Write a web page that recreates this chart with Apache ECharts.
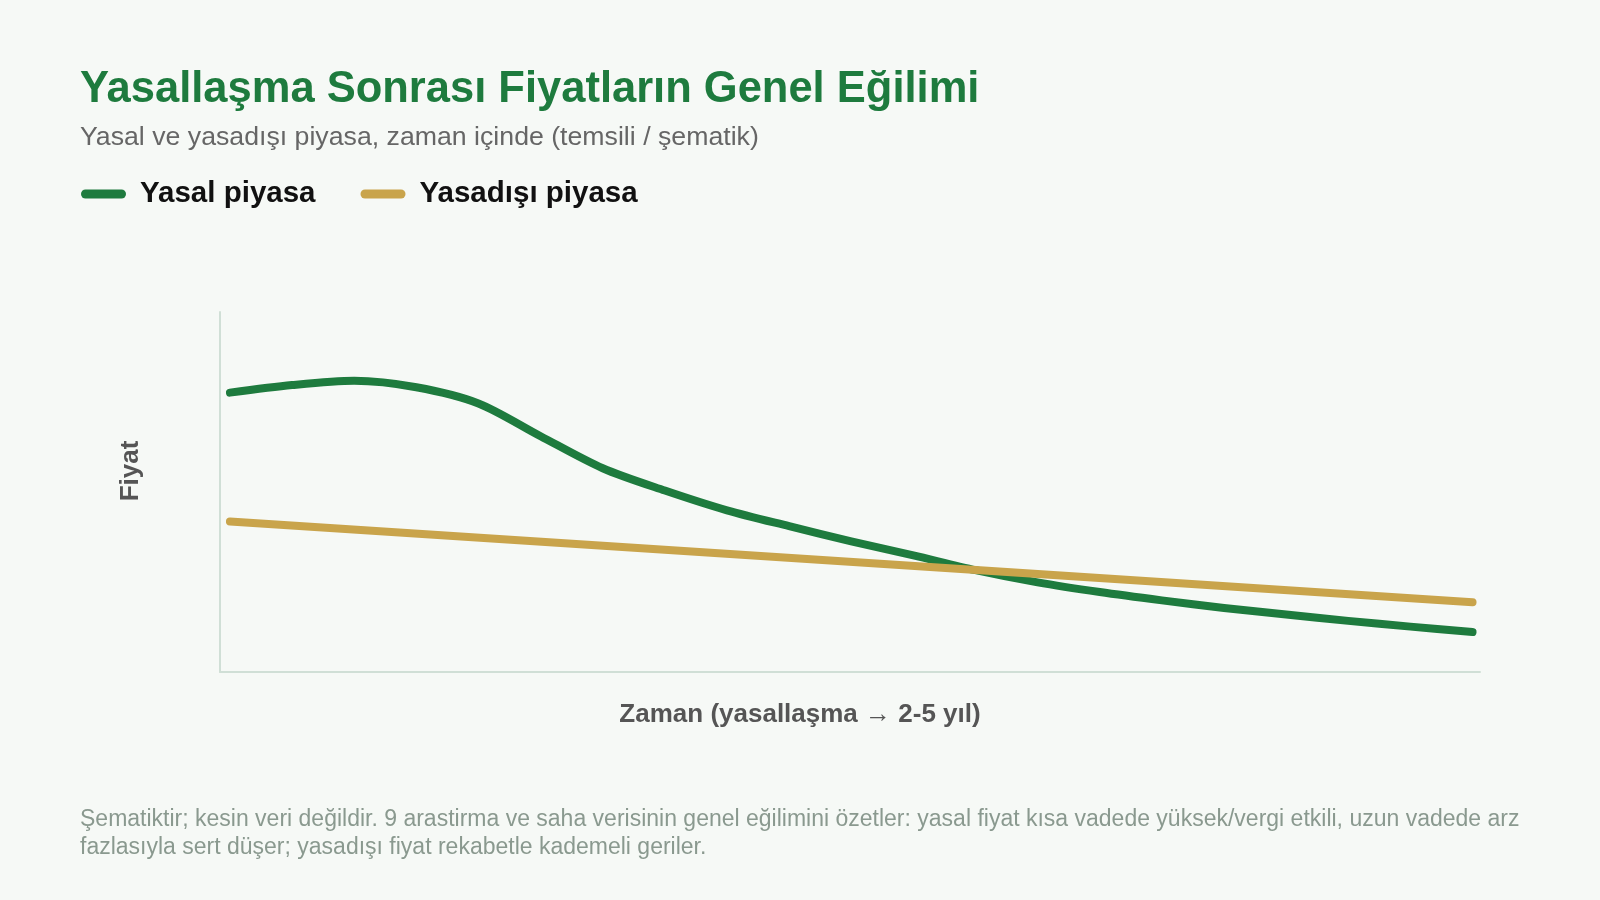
<!DOCTYPE html>
<html lang="tr">
<head>
    <meta charset="utf-8">
    <script src="https://cdn.jsdelivr.net/npm/echarts@6/dist/echarts.min.js"></script>
    <style>
        html, body { margin: 0; padding: 0; background: #f6f9f6; }
        #chart { width: 1600px; height: 900px; }
    </style>
</head>
<body>
<div id="chart"></div>
<script type="text/javascript">
    // zaman ekseni (yasallaşma -> 2-5 yıl), şematik birimler
    var timePoints = [0, 0.5, 1, 1.5, 2, 2.5, 3, 3.5, 4, 4.5, 5, 5.5, 6, 6.5, 7, 7.5, 8, 8.5, 9, 9.5, 10];
    // yasal piyasa fiyatı (göreli)
    var legalPrice = [77.6, 79.7, 80.9, 79.1, 74.6, 65.5, 56.6, 50.4, 44.9, 40.5, 36.3, 32.4, 28.3, 24.9, 22.2, 19.9, 17.8, 16.0, 14.2, 12.6, 11.1];
    // yasadışı piyasa: düz, kademeli düşüş
    var illegalTime = [0, 10];
    var illegalPrice = [41.8, 19.4];
    var seriesNames = ['Yasal piyasa', 'Yasadışı piyasa'];

    var titleText = 'Yasallaşma Sonrası Fiyatların Genel Eğilimi';
    var subText = 'Yasal ve yasadışı piyasa, zaman içinde (temsili / şematik)';
    var yName = 'Fiyat';
    var xName = 'Zaman (yasallaşma → 2-5 yıl)';
    var noteText = 'Şematiktir; kesin veri değildir. 9 arastirma ve saha verisinin genel eğilimini özetler: yasal fiyat kısa vadede yüksek/vergi etkili, uzun vadede arz\n' +
        'fazlasıyla sert düşer; yasadışı fiyat rekabetle kademeli geriler.';

    var FONT = '"Liberation Sans", Arial, Helvetica, sans-serif';
    var GREEN = '#1e7b3e';
    var GOLD = '#c9a44b';

    function pairs(xs, ys) {
        return xs.map(function (x, i) { return [x, ys[i]]; });
    }

    var chart = echarts.init(document.getElementById('chart'), null, {renderer: 'canvas'});

    var option = {
        backgroundColor: '#f6f9f6',
        animation: false,
        textStyle: {fontFamily: FONT},
        legend: {
            left: 76,
            top: 174,
            itemWidth: 45,
            itemHeight: 9,
            itemGap: 45,
            icon: 'path://M4.5,0 H40.5 A4.5,4.5 0 0 1 40.5,9 H4.5 A4.5,4.5 0 0 1 4.5,0 Z',
            textStyle: {
                fontFamily: FONT,
                fontSize: 29.5,
                fontWeight: 'bold',
                color: '#111',
                lineHeight: 30,
                padding: [0, 0, 0, 9]
            },
            data: seriesNames
        },
        grid: {
            left: 220,
            right: 120,
            top: 312,
            bottom: 228
        },
        xAxis: {
            type: 'value',
            min: -0.08,
            max: 10.06,
            axisLine: {show: true, lineStyle: {color: '#d0dfd6', width: 2}},
            axisTick: {show: false},
            axisLabel: {show: false},
            splitLine: {show: false}
        },
        yAxis: {
            type: 'value',
            min: 0,
            max: 100,
            axisLine: {show: true, onZero: false, lineStyle: {color: '#d0dfd6', width: 2}},
            axisTick: {show: false},
            axisLabel: {show: false},
            splitLine: {show: false}
        },
        series: [
            {
                name: seriesNames[0],
                type: 'line',
                data: pairs(timePoints, legalPrice),
                smooth: 0.3,
                showSymbol: false,
                symbol: 'none',
                color: GREEN,
                lineStyle: {color: GREEN, width: 8, cap: 'round', join: 'round'}
            },
            {
                name: seriesNames[1],
                type: 'line',
                data: pairs(illegalTime, illegalPrice),
                showSymbol: false,
                symbol: 'none',
                color: GOLD,
                lineStyle: {color: GOLD, width: 8, cap: 'round'}
            }
        ],
        graphic: [
            {
                type: 'text', left: 80, top: 68,
                style: {text: titleText, fontFamily: FONT, fontSize: 43.5, fontWeight: 'bold', fill: GREEN}
            },
            {
                type: 'text', left: 80, top: 124,
                style: {text: subText, fontFamily: FONT, fontSize: 26.7, fill: '#666666'}
            },
            {
                type: 'text', x: 131, y: 471, rotation: Math.PI / 2,
                style: {text: yName, fontFamily: FONT, fontSize: 26, fontWeight: 'bold', fill: '#555555',
                    align: 'center', verticalAlign: 'middle'}
            },
            {
                type: 'text', x: 800, y: 715,
                style: {text: xName, fontFamily: FONT, fontSize: 26, fontWeight: 'bold', fill: '#555555',
                    align: 'center', verticalAlign: 'middle'}
            },
            {
                type: 'text', left: 80, top: 806,
                style: {text: noteText, fontFamily: FONT, fontSize: 23, lineHeight: 28, fill: '#8a998f'}
            }
        ]
    };

    chart.setOption(option);
</script>
</body>
</html>
